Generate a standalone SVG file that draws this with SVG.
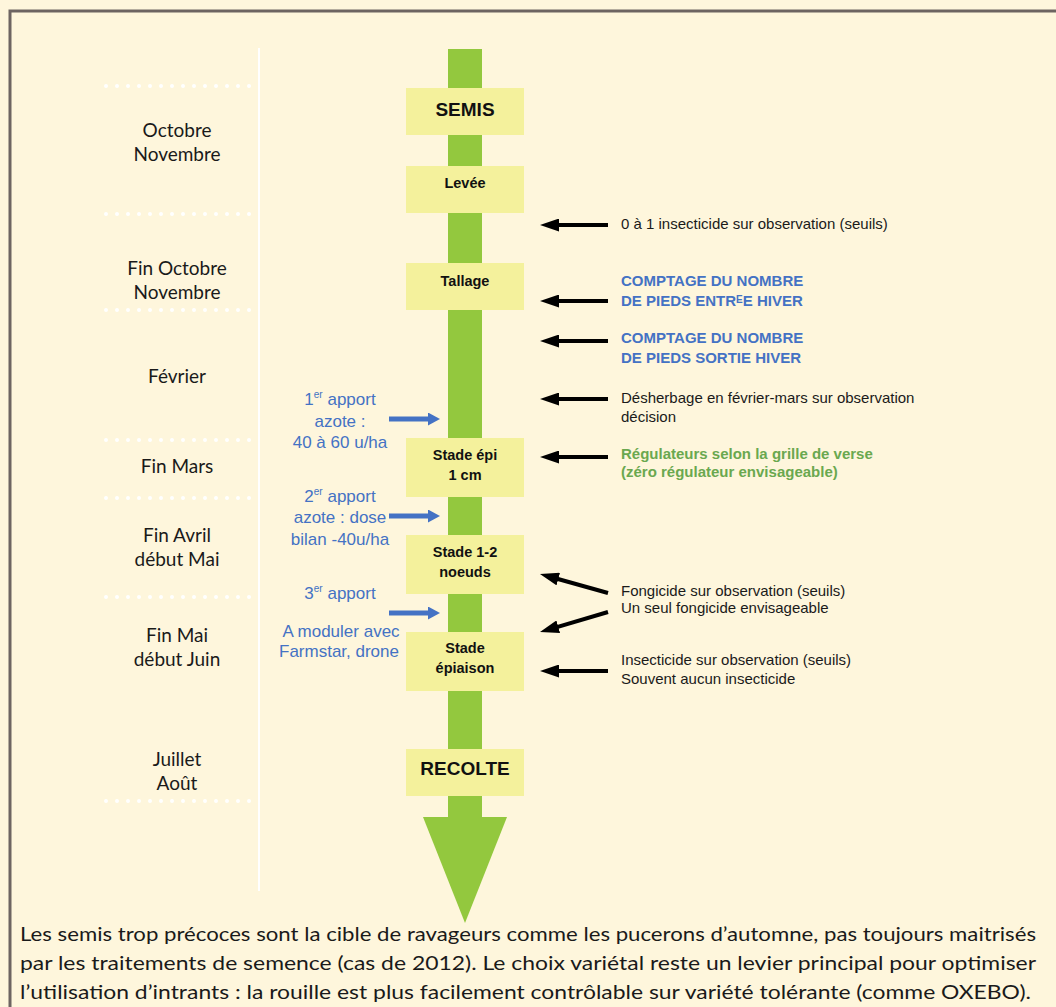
<svg xmlns="http://www.w3.org/2000/svg" width="1056" height="1007" viewBox="0 0 1056 1007">
<defs>
<style>
.lbl{font-family:Lato,"Open Sans",sans-serif;font-size:19px;fill:#1a1a1a;text-anchor:middle}
.node rect{fill:#f4f19c}
.nt{font-family:"Liberation Sans",Arial,sans-serif;font-weight:bold;font-size:14.5px;fill:#111;text-anchor:middle}
.big{font-size:19px}
.rt{font-family:"Liberation Sans",Arial,sans-serif;font-size:15px;fill:#1a1a1a}
.rb{font-family:"Liberation Sans",Arial,sans-serif;font-size:15px;font-weight:bold;fill:#4472c4}
.rg{font-family:"Liberation Sans",Arial,sans-serif;font-size:15px;font-weight:bold;fill:#6aa84f}
.bt{font-family:"Liberation Sans",Arial,sans-serif;font-size:17px;fill:#4472c4;text-anchor:middle}
.para{font-family:Lato,"Open Sans",sans-serif;font-size:20px;fill:#1a1a1a}
.dots{stroke:#ffffff;stroke-width:4;stroke-linecap:round;stroke-dasharray:0 11}
.blk{stroke:#000;stroke-width:4;fill:none;marker-end:url(#ah)}
.blu{stroke:#4472c4;stroke-width:5;fill:none;marker-end:url(#bh)}
</style>
<marker id="ah" viewBox="0 0 19 13" refX="4" refY="6.5" markerWidth="19" markerHeight="13" markerUnits="userSpaceOnUse" orient="auto">
<path d="M0,6.5 L19,0 L19,13 Z" transform="rotate(180 9.5 6.5)" fill="#000"/>
</marker>
<marker id="bh" viewBox="0 0 12 13" refX="2" refY="6.5" markerWidth="12" markerHeight="13" markerUnits="userSpaceOnUse" orient="auto">
<path d="M0,0 L12,6.5 L0,13 Z" fill="#4472c4"/>
</marker>
</defs>
<rect x="0" y="0" width="1056" height="1007" fill="#fef6dc"/>
<rect x="10" y="11" width="1100" height="1100" fill="#fef6dc" stroke="#6d6461" stroke-width="3"/>

<g id="timeline-grid">
<line x1="259" y1="48" x2="259" y2="891" stroke="#ffffff" stroke-width="2"/>
<line class="dots" x1="106" y1="86" x2="259" y2="86"/>
<line class="dots" x1="106" y1="214" x2="259" y2="214"/>
<line class="dots" x1="106" y1="310" x2="259" y2="310"/>
<line class="dots" x1="106" y1="440" x2="259" y2="440"/>
<line class="dots" x1="106" y1="498" x2="259" y2="498"/>
<line class="dots" x1="106" y1="597" x2="259" y2="597"/>
<line class="dots" x1="106" y1="801" x2="259" y2="801"/>
</g>

<g id="periods">
<text class="lbl" x="177" y="137">Octobre</text>
<text class="lbl" x="177" y="161">Novembre</text>
<text class="lbl" x="177" y="275">Fin Octobre</text>
<text class="lbl" x="177" y="299">Novembre</text>
<text class="lbl" x="177" y="383">Février</text>
<text class="lbl" x="177" y="473">Fin Mars</text>
<text class="lbl" x="177" y="542">Fin Avril</text>
<text class="lbl" x="177" y="566">début Mai</text>
<text class="lbl" x="177" y="642">Fin Mai</text>
<text class="lbl" x="177" y="666">début Juin</text>
<text class="lbl" x="177" y="766">Juillet</text>
<text class="lbl" x="177" y="790">Août</text>
</g>

<g id="stem">
<rect x="448" y="49" width="34" height="769" fill="#93c83e"/>
<polygon points="423,817 507,817 465,923" fill="#93c83e"/>
</g>

<g id="node-semis" class="node"><rect x="406" y="88" width="118" height="47"/><text class="nt big" x="465" y="116">SEMIS</text></g>
<g id="node-levee" class="node"><rect x="406" y="166" width="118" height="47"/><text class="nt" x="465" y="188">Levée</text></g>
<g id="node-tallage" class="node"><rect x="406" y="263" width="118" height="47"/><text class="nt" x="465" y="286">Tallage</text></g>
<g id="node-epi" class="node"><rect x="406" y="438" width="118" height="59"/><text class="nt" x="465" y="460">Stade épi</text><text class="nt" x="465" y="480">1 cm</text></g>
<g id="node-noeuds" class="node"><rect x="406" y="535" width="118" height="59"/><text class="nt" x="465" y="557">Stade 1-2</text><text class="nt" x="465" y="577">noeuds</text></g>
<g id="node-epiaison" class="node"><rect x="406" y="632" width="118" height="59"/><text class="nt" x="465" y="653">Stade</text><text class="nt" x="465" y="673">épiaison</text></g>
<g id="node-recolte" class="node"><rect x="406" y="749" width="118" height="47"/><text class="nt big" x="465" y="775">RECOLTE</text></g>

<g id="connectors">
<line class="blk" x1="608" y1="225" x2="555" y2="225"/>
<line class="blk" x1="608" y1="301" x2="555" y2="301"/>
<line class="blk" x1="608" y1="341" x2="555" y2="341"/>
<line class="blk" x1="608" y1="399" x2="555" y2="399"/>
<line class="blk" x1="608" y1="457" x2="555" y2="457"/>
<line class="blk" x1="608" y1="593" x2="554.4" y2="578"/>
<line class="blk" x1="608" y1="612" x2="554.4" y2="627.8"/>
<line class="blk" x1="608" y1="671" x2="555" y2="671"/>
<line class="blu" x1="389" y1="419" x2="430" y2="419"/>
<line class="blu" x1="389" y1="516" x2="430" y2="516"/>
<line class="blu" x1="389" y1="613" x2="430" y2="613"/>
</g>

<g id="interventions">
<text class="rt" x="621" y="229">0 à 1 insecticide sur observation (seuils)</text>
<text class="rb" x="621" y="286">COMPTAGE DU NOMBRE</text>
<text class="rb" x="621" y="306">DE PIEDS ENTR<tspan font-size="10" dy="-3">E</tspan><tspan dy="3">E HIVER</tspan></text>
<text class="rb" x="621" y="343">COMPTAGE DU NOMBRE</text>
<text class="rb" x="621" y="363">DE PIEDS SORTIE HIVER</text>
<text class="rt" x="621" y="403">Désherbage en février-mars sur observation</text>
<text class="rt" x="621" y="422">décision</text>
<text class="rg" x="621" y="459">Régulateurs selon la grille de verse</text>
<text class="rg" x="621" y="477">(zéro régulateur envisageable)</text>
<text class="rt" x="621" y="596">Fongicide sur observation (seuils)</text>
<text class="rt" x="621" y="613">Un seul fongicide envisageable</text>
<text class="rt" x="621" y="665">Insecticide sur observation (seuils)</text>
<text class="rt" x="621" y="684">Souvent aucun insecticide</text>
</g>

<g id="nitrogen">
<text class="bt" x="340" y="405">1<tspan font-size="10" dy="-7">er</tspan><tspan dy="7"> apport</tspan></text>
<text class="bt" x="340" y="427">azote :</text>
<text class="bt" x="340" y="448">40 à 60 u/ha</text>
<text class="bt" x="340" y="502">2<tspan font-size="10" dy="-7">er</tspan><tspan dy="7"> apport</tspan></text>
<text class="bt" x="340" y="523">azote : dose</text>
<text class="bt" x="340" y="545">bilan -40u/ha</text>
<text class="bt" x="340" y="599">3<tspan font-size="10" dy="-7">er</tspan><tspan dy="7"> apport</tspan></text>
<text class="bt" x="341" y="637">A moduler avec</text>
<text class="bt" x="339" y="657">Farmstar, drone</text>
</g>

<g id="note">
<text class="para" x="20" y="941" textLength="1016" lengthAdjust="spacingAndGlyphs">Les semis trop précoces sont la cible de ravageurs comme les pucerons d’automne, pas toujours maitrisés</text>
<text class="para" x="20" y="970" textLength="1016" lengthAdjust="spacingAndGlyphs">par les traitements de semence (cas de 2012). Le choix variétal reste un levier principal pour optimiser</text>
<text class="para" x="20" y="999" textLength="1011" lengthAdjust="spacingAndGlyphs">l’utilisation d’intrants : la rouille est plus facilement contrôlable sur variété tolérante (comme OXEBO).</text>
</g>
</svg>
